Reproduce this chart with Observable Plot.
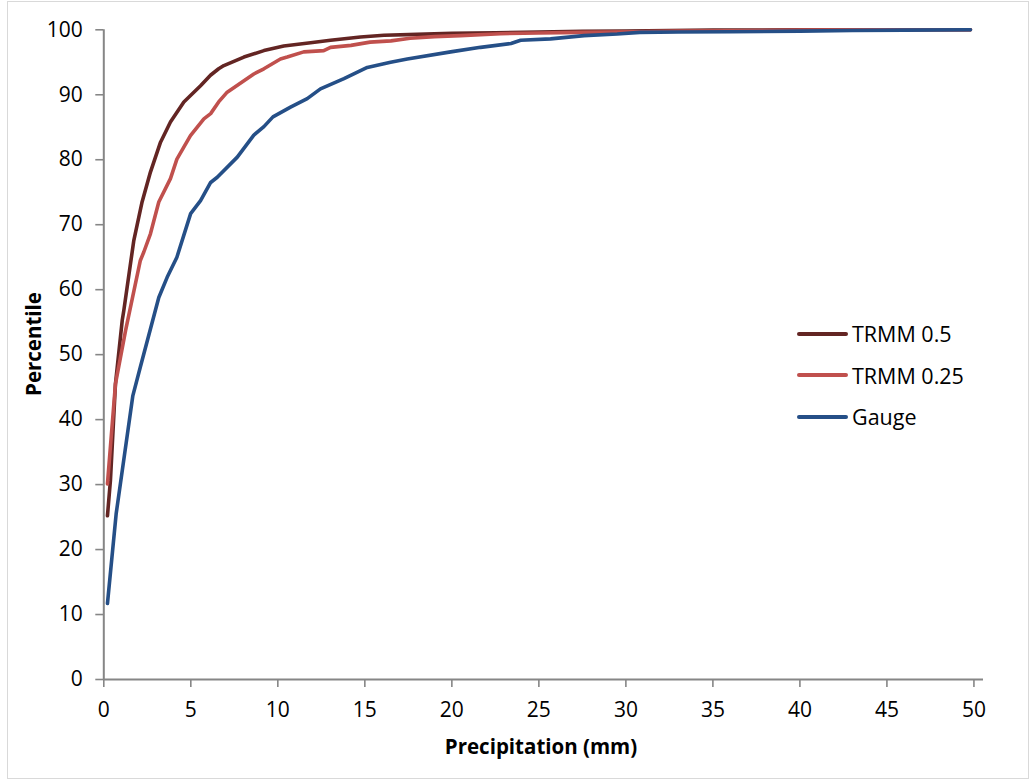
<!DOCTYPE html>
<html>
<head>
<meta charset="utf-8">
<script src="https://cdn.jsdelivr.net/npm/d3@7"></script>
<script src="https://cdn.jsdelivr.net/npm/@observablehq/plot@0.6"></script>
<style>
  html, body { margin: 0; padding: 0; background: #fff; }
  #wrap { position: relative; width: 1032px; height: 781px; overflow: hidden; font-family: "Open Sans", sans-serif; }
  #frame { position: absolute; left: 7px; top: 1px; width: 1022px; height: 778px; border: 1px solid #d9d9d9; box-sizing: border-box; pointer-events: none; }
  #chart { position: absolute; left: 0; top: 0; }
  .ttl { position: absolute; font-weight: bold; font-size: 20.5px; color: #000; white-space: nowrap; }
  #xt { left: 0; width: 1082px; text-align: center; top: 732px; }
  #yt { left: 33px; top: 344px; transform: translate(-50%, -50%) rotate(-90deg); }
  #legend { position: absolute; left: 797px; top: 319px; font-size: 21.5px; }
  .lg { position: absolute; left: 0; display: flex; align-items: center; white-space: nowrap; }
  .sw { width: 51px; height: 4px; border-radius: 2px; margin-right: 4px; }
</style>
</head>
<body>
<div id="wrap">
  <div id="chart"></div>
  <div id="frame"></div>
  <div class="ttl" id="xt">Precipitation (mm)</div>
  <div class="ttl" id="yt">Percentile</div>
  <div id="legend"></div>
</div>
<script>
// Series names and colours
const seriesNames = ["TRMM 0.5", "TRMM 0.25", "Gauge"];
const seriesColors = ["#632523", "#c0504d", "#254f87"];

// TRMM 0.5
const trmm05X = [0.21,0.38,0.67,1.06,1.15,1.72,2.2,2.68,3.26,3.83,4.6,5.56,6.13,6.6,6.9,8.05,9.2,10.34,11.88,13.03,14.75,16.1,18,20,22.5,25,27.5,30,32.5,35,40,45,49.8];
const trmm05Y = [25.2,30.6,45.5,55.3,56.8,67.5,73.5,78.1,82.7,85.8,88.9,91.4,93.0,94.0,94.5,95.8,96.8,97.5,98.0,98.4,98.9,99.15,99.3,99.45,99.55,99.65,99.75,99.8,99.9,99.95,100,100,100];

// TRMM 0.25
const trmm025X = [0.21,0.67,1.25,2.1,2.3,2.68,3.16,3.83,4.2,4.98,5.75,6.14,6.6,7.09,8.62,9.2,10.15,10.54,11.49,12.64,13.03,14.2,15.3,16.5,17.6,19,20.5,22.8,25,27.5,30.4,33,36,40,45,49.8];
const trmm025Y = [30.1,45.5,53.7,64.5,65.8,68.6,73.5,77.1,80.1,83.7,86.3,87.1,88.9,90.4,93.2,94.0,95.5,95.8,96.6,96.8,97.3,97.6,98.1,98.3,98.7,98.95,99.1,99.4,99.5,99.6,99.7,99.8,99.85,99.95,100,100];

// Gauge
const gaugeX = [0.21,0.71,1.67,2.1,3.16,3.64,4.2,4.99,5.56,6.14,6.52,7.67,8.62,9.2,9.72,10.73,11.69,12.45,13.8,15.14,16.48,17.44,19.93,21.65,23.4,23.95,25.67,27.6,29.5,30.8,33,36,40,43,46,49.8];
const gaugeY = [11.7,25.5,43.7,48.1,58.8,61.9,65,71.7,73.7,76.5,77.3,80.4,83.8,85.1,86.6,88.1,89.4,90.9,92.5,94.2,95.0,95.5,96.6,97.3,97.9,98.4,98.6,99.1,99.35,99.6,99.65,99.7,99.8,99.9,99.95,100];

// Ticks
const xTicks = [0,5,10,15,20,25,30,35,40,45,50];
const yTicks = [0,10,20,30,40,50,60,70,80,90,100];

const xs = [trmm05X, trmm025X, gaugeX];
const ys = [trmm05Y, trmm025Y, gaugeY];
const data = seriesNames.flatMap((name, i) => xs[i].map((x, j) => ({series: name, x, y: ys[i][j]})));

const axisColor = "#868686";

const chart = Plot.plot({
  width: 1032,
  height: 781,
  marginLeft: 103.3,
  marginRight: 49,
  marginTop: 29.3,
  marginBottom: 102,
  style: { fontFamily: "'Open Sans', sans-serif", fontSize: "21px", color: "#000", background: "transparent", overflow: "visible" },
  x: { domain: [0, 50.55] },
  y: { domain: [0, 100] },
  color: { domain: seriesNames, range: seriesColors },
  marks: [
    Plot.axisX({ ticks: xTicks, tickSize: 8, tickPadding: 15, stroke: axisColor, strokeWidth: 1.6, fill: "#000", label: null, tickFormat: d => String(d) }),
    Plot.axisY({ ticks: yTicks, tickSize: 8, tickPadding: 13, stroke: axisColor, strokeWidth: 1.6, fill: "#000", label: null, tickFormat: d => String(d) }),
    Plot.ruleX([0], { stroke: axisColor, strokeWidth: 2 }),
    Plot.ruleY([0], { stroke: axisColor, strokeWidth: 2 }),
    Plot.line(data, { x: "x", y: "y", z: "series", stroke: "series", strokeWidth: 3.6, strokeLinejoin: "round", strokeLinecap: "round" })
  ]
});
document.getElementById("chart").appendChild(chart);

// Legend (HTML overlay inside plot area)
const legend = document.getElementById("legend");
seriesNames.forEach((name, i) => {
  const row = document.createElement("div");
  row.className = "lg";
  row.style.top = (i * 41.7) + "px";
  row.innerHTML = `<span class="sw" style="background:${seriesColors[i]}"></span><span>${name}</span>`;
  legend.appendChild(row);
});
</script>
</body>
</html>
